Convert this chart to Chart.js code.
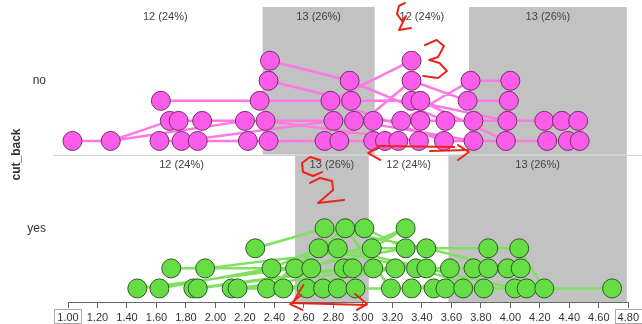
<!DOCTYPE html>
<html>
<head>
<meta charset="utf-8">
<script src="https://cdn.jsdelivr.net/npm/chart.js@4"></script>
<style>
  html, body { margin: 0; padding: 0; background: #fff; }
  #wrap { width: 642px; height: 324px; }
</style>
</head>
<body>
<div id="wrap"><canvas id="dotChart" width="642" height="324"></canvas></div>
<script>
// Valores del eje x (etiquetas de los ticks)
const xTickValues = [1.0, 1.2, 1.4, 1.6, 1.8, 2.0, 2.2, 2.4, 2.6, 2.8, 3.0, 3.2, 3.4, 3.6, 3.8, 4.0, 4.2, 4.4, 4.6, 4.8];

// Panel "no": valor x de cada punto y su nivel de apilado
const noX = [
  1.03, 1.29, 1.62, 1.77, 1.88, 2.22, 2.36, 2.74, 2.84, 3.07, 3.15, 3.24, 3.38, 3.55, 3.75, 3.97, 4.25, 4.39, 4.47,
  1.69, 1.75, 1.91, 2.20, 2.34, 2.80, 2.94, 3.07, 3.26, 3.39, 3.56, 3.75, 3.98, 4.23, 4.35, 4.46,
  1.63, 2.30, 2.78, 2.92, 3.33, 3.39, 3.71, 3.99,
  2.36, 2.91, 3.33, 3.73, 4.00,
  2.37, 3.33
];
const noLevel = [
  0, 0, 0, 0, 0, 0, 0, 0, 0, 0, 0, 0, 0, 0, 0, 0, 0, 0, 0,
  1, 1, 1, 1, 1, 1, 1, 1, 1, 1, 1, 1, 1, 1, 1, 1,
  2, 2, 2, 2, 2, 2, 2, 2,
  3, 3, 3, 3, 3,
  4, 4
];
// Enlaces entre puntos (índices)
const noLinks = [
  [0, 1], [1, 19], [1, 22], [2, 6], [3, 24], [4, 9], [20, 26], [21, 27], [22, 28], [35, 39],
  [36, 40], [5, 10], [23, 12], [6, 11], [43, 38], [48, 44], [49, 37], [45, 41], [44, 29], [37, 13],
  [24, 30], [25, 14], [39, 31], [46, 47], [41, 42], [30, 32], [31, 33], [14, 16], [15, 17], [29, 34],
  [13, 18], [40, 15], [27, 46], [8, 45]
];

// Panel "yes"
const yesX = [
  1.47, 1.62, 1.85, 1.88, 2.11, 2.15, 2.35, 2.46, 2.62, 2.73, 2.83, 2.95, 3.19, 3.33, 3.48, 3.56, 3.68, 3.82, 4.03, 4.11, 4.23, 4.69,
  1.70, 1.93, 2.38, 2.54, 2.65, 2.87, 2.93, 3.07, 3.22, 3.36, 3.43, 3.59, 3.75, 3.85, 3.98, 4.07,
  2.27, 2.70, 2.83, 3.06, 3.29, 3.43, 3.85, 4.06,
  2.74, 2.88, 3.01, 3.29
];
const yesLevel = [
  0, 0, 0, 0, 0, 0, 0, 0, 0, 0, 0, 0, 0, 0, 0, 0, 0, 0, 0, 0, 0, 0,
  1, 1, 1, 1, 1, 1, 1, 1, 1, 1, 1, 1, 1, 1, 1, 1,
  2, 2, 2, 2, 2, 2, 2, 2,
  3, 3, 3, 3
];
const yesLinks = [
  [0, 25], [1, 24], [22, 26], [23, 41], [2, 27], [3, 28], [4, 10], [5, 29], [38, 46], [6, 47],
  [24, 48], [7, 30], [25, 42], [39, 31], [26, 49], [46, 43], [47, 12], [49, 41], [48, 42], [40, 32],
  [27, 33], [28, 34], [29, 35], [41, 44], [42, 45], [43, 36], [44, 42], [45, 20], [20, 21], [31, 17],
  [32, 18], [12, 19], [13, 37], [9, 14], [10, 15], [11, 16]
];

// Cuartiles (límites) y recuentos de cada panel
const noCuts = [1.00, 2.32, 3.08, 3.72, 4.79];
const yesCuts = [1.00, 2.54, 3.04, 3.58, 4.79];
const noCounts = ['12 (24%)', '13 (26%)', '12 (24%)', '13 (26%)'];
const yesCounts = ['12 (24%)', '13 (26%)', '12 (24%)', '13 (26%)'];

// Anotaciones rojas a mano (en unidades de los ejes)
const markupStrokes = [
  [[3.285, 2.027], [3.245, 2.007], [3.231, 1.953], [3.265, 1.905], [3.292, 1.939], [3.265, 1.885], [3.245, 1.844], [3.326, 1.858]],
  [[3.42, 1.742], [3.50, 1.776], [3.55, 1.736], [3.51, 1.661], [3.45, 1.641], [3.52, 1.620], [3.57, 1.566], [3.51, 1.519], [3.41, 1.532]],
  [[3.10, 1.058], [3.62, 1.051]],
  [[3.117, 1.058], [3.036, 1.010], [3.117, 0.963]],
  [[3.455, 1.024], [3.713, 1.031]],
  [[3.645, 1.064], [3.719, 1.017], [3.645, 0.963]],
  [[2.709, 0.963], [2.642, 0.983], [2.587, 0.942], [2.594, 0.881], [2.662, 0.854], [2.723, 0.881]],
  [[2.642, 0.807], [2.710, 0.841], [2.791, 0.820], [2.798, 0.759], [2.696, 0.671], [2.872, 0.692]],
  [[2.596, 0.115], [2.528, 0.0]],
  [[2.521, -0.007], [3.022, -0.020]],
  [[2.947, 0.054], [3.028, -0.014], [2.960, -0.054]],
  [[2.582, 0.047], [2.507, -0.014], [2.589, -0.054]]
];

const FONT = "'Liberation Sans', Arial, sans-serif";
const ROW_BASE = 0.092;
const ROW_STEP = 0.136;

const makePoints = (xs, levels, base) =>
  xs.map((v, i) => ({ x: v, y: base + ROW_BASE + levels[i] * ROW_STEP }));

const makeLinks = (pts, links) => {
  const out = [];
  links.forEach(([a, b]) => {
    out.push(pts[a], pts[b], { x: null, y: null });
  });
  return out;
};

const noPoints = makePoints(noX, noLevel, 1);
const yesPoints = makePoints(yesX, yesLevel, 0);

// Sombreado de cuartiles y etiquetas de recuento
const panelPlugin = {
  id: 'panelPlugin',
  beforeDatasetsDraw(chart) {
    const { ctx, scales: { x, y } } = chart;
    const drawPanel = (cuts, counts, bottom, top) => {
      const yTop = y.getPixelForValue(top);
      const yBot = y.getPixelForValue(bottom);
      for (let i = 0; i < counts.length; i++) {
        const x0 = x.getPixelForValue(cuts[i]);
        const x1 = x.getPixelForValue(cuts[i + 1]);
        if (i % 2 === 1) {
          ctx.fillStyle = '#c2c2c2';
          ctx.fillRect(x0, yTop, x1 - x0, yBot - yTop);
        }
        ctx.fillStyle = '#444';
        ctx.font = '11px ' + FONT;
        ctx.textAlign = 'center';
        ctx.textBaseline = 'middle';
        ctx.fillText(counts[i], (x0 + x1) / 2, yTop + 10);
      }
    };
    ctx.save();
    drawPanel(noCuts, noCounts, 1, 2);
    drawPanel(yesCuts, yesCounts, 0, 1);
    // línea divisoria entre paneles
    const ySep = Math.round(y.getPixelForValue(1)) + 0.5;
    ctx.strokeStyle = '#d0d0d0';
    ctx.lineWidth = 1;
    ctx.beginPath();
    ctx.moveTo(x.left - 15, ySep);
    ctx.lineTo(chart.width, ySep);
    ctx.stroke();
    ctx.restore();
  },
  afterDraw(chart) {
    const { ctx, scales: { x, y } } = chart;
    ctx.save();
    // etiquetas de los paneles
    ctx.fillStyle = '#333';
    ctx.font = '12px ' + FONT;
    ctx.textAlign = 'right';
    ctx.textBaseline = 'middle';
    ctx.fillText('no', 46, y.getPixelForValue(1.5));
    ctx.fillText('yes', 46, y.getPixelForValue(0.5));
    // título del eje
    ctx.translate(17, y.getPixelForValue(1));
    ctx.rotate(-Math.PI / 2);
    ctx.font = 'bold 12px ' + FONT;
    ctx.textAlign = 'center';
    ctx.fillText('cut_back', 0, 0);
    ctx.restore();

    // recuadros de los extremos del eje
    ctx.save();
    ctx.font = '11px ' + FONT;
    ctx.strokeStyle = '#aaa';
    ctx.lineWidth = 1;
    [xTickValues[0], xTickValues[xTickValues.length - 1]].forEach((v) => {
      const w = ctx.measureText(v.toFixed(2)).width;
      const px = x.getPixelForValue(v);
      ctx.strokeRect(Math.round(px - w / 2 - 3) + 0.5, x.top + 7.5, Math.round(w + 6), x.bottom - x.top - 8);
    });
    ctx.restore();

    // anotaciones rojas
    ctx.save();
    ctx.strokeStyle = '#e8261c';
    ctx.lineWidth = 2;
    ctx.lineJoin = 'round';
    ctx.lineCap = 'round';
    markupStrokes.forEach((stroke) => {
      ctx.beginPath();
      stroke.forEach(([vx, vy], i) => {
        const px = x.getPixelForValue(vx);
        const py = y.getPixelForValue(vy);
        if (i === 0) ctx.moveTo(px, py);
        else ctx.lineTo(px, py);
      });
      ctx.stroke();
    });
    ctx.restore();
  }
};

const config = {
  type: 'scatter',
  data: {
    datasets: [
      {
        data: noPoints,
        backgroundColor: '#fb5ce9',
        borderColor: '#74306c',
        borderWidth: 1,
        pointRadius: 9.5,
        clip: false,
        order: 0
      },
      {
        data: yesPoints,
        backgroundColor: '#66dc45',
        borderColor: '#2f5a24',
        borderWidth: 1,
        pointRadius: 9.5,
        clip: false,
        order: 0
      },
      {
        type: 'line',
        data: makeLinks(noPoints, noLinks),
        borderColor: '#ff78e4',
        borderWidth: 2.5,
        pointRadius: 0,
        spanGaps: false,
        clip: false,
        order: 1
      },
      {
        type: 'line',
        data: makeLinks(yesPoints, yesLinks),
        borderColor: '#80e060',
        borderWidth: 2.5,
        pointRadius: 0,
        spanGaps: false,
        clip: false,
        order: 1
      }
    ]
  },
  options: {
    responsive: false,
    animation: false,
    devicePixelRatio: 1,
    layout: { autoPadding: false, padding: { left: 68, right: 13, top: 7, bottom: 0 } },
    plugins: { legend: { display: false }, tooltip: { enabled: false } },
    scales: {
      x: {
        type: 'linear',
        min: 1.0,
        max: 4.8,
        afterBuildTicks: (scale) => {
          scale.ticks = xTickValues.map((v) => ({ value: v }));
        },
        afterFit: (scale) => {
          scale.height = 22;
        },
        ticks: {
          autoSkip: false,
          maxRotation: 0,
          padding: 3,
          color: '#333',
          font: { family: FONT, size: 11 },
          callback: (v) => Number(v).toFixed(2)
        },
        grid: { drawOnChartArea: false, drawTicks: true, tickLength: 6, color: '#666' },
        border: { display: true, color: '#666' }
      },
      y: { type: 'linear', min: 0, max: 2, display: false }
    }
  },
  plugins: [panelPlugin]
};

const dotChart = new Chart(document.getElementById('dotChart'), config);
</script>
</body>
</html>
